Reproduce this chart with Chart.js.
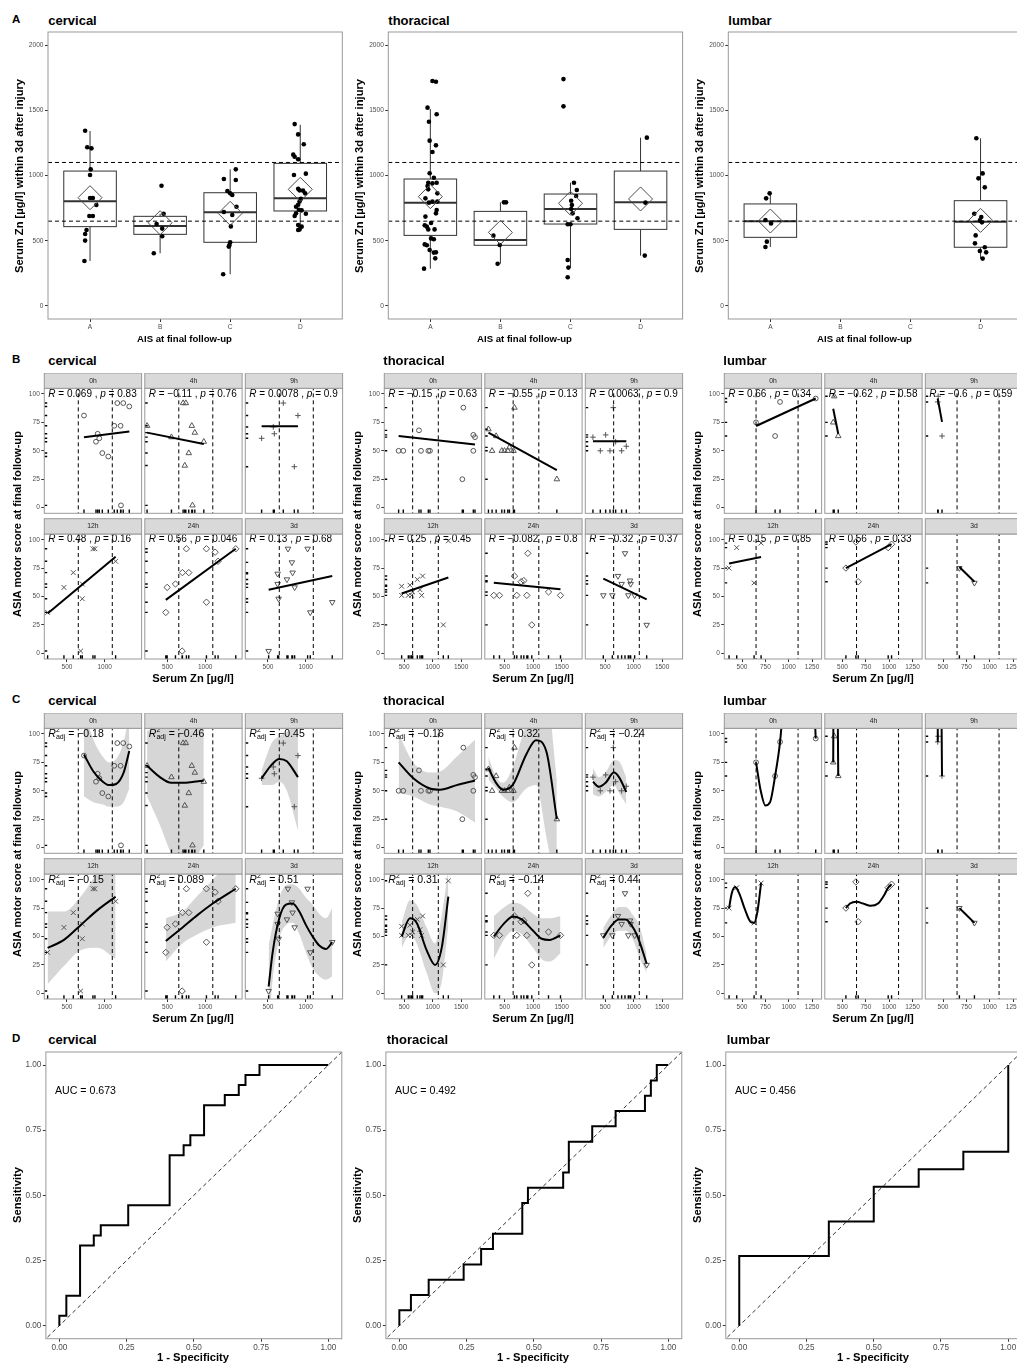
<!DOCTYPE html>
<html>
<head>
<meta charset="utf-8">
<title>Serum Zn and neurological outcome</title>
<script src="https://cdn.jsdelivr.net/npm/chart.js"></script>
<style>
  html, body { margin: 0; padding: 0; background: #fff; overflow: hidden; }
  #page { position: relative; width: 1017px; height: 1365px; overflow: hidden; font-family: "Liberation Sans", Arial, sans-serif; }
  #page canvas { position: absolute; }
  .t { position: absolute; white-space: nowrap; color: #000; line-height: 1; }
</style>
</head>
<body>
<div id="page"></div>
<script>
// ---------- A: serum Zn within 3d by AIS grade ----------
const aisCategories = ['A', 'B', 'C', 'D'];
const znCutoffs = [650, 1100];
const znAxisTicks = [0, 500, 1000, 1500, 2000];

// [lower whisker, q1, median, q3, upper whisker] per AIS grade
const cervicalBox = [[345, 608, 802, 1034, 1341], [404, 549, 613, 687, 707], [243, 488, 718, 868, 1047], [578, 728, 825, 1093, 1389]];
const thoracicBox = [[286, 541, 792, 973, 1509], [324, 465, 506, 725, 794], [294, 628, 743, 858, 945], [386, 587, 794, 1034, 1290]];
const lumbarBox = [[452, 526, 649, 782, 863], null, null, [363, 450, 646, 807, 1285]];
const cervicalMean = [830, 638, 710, 894];
const thoracicMean = [838, 564, 787, 820];
const lumbarMean = [651, null, null, 656];

// jittered points: [AIS position, serum Zn]
const cervicalZn = [
  [0.93, 1343], [0.96, 1216], [1.02, 1208], [1.01, 1047], [1.0, 1004], [1.0, 828], [1.04, 828], [1.09, 774],
  [0.99, 690], [1.04, 690], [0.95, 582], [0.93, 552], [0.93, 501], [0.92, 345],
  [2.02, 922], [2.05, 707], [1.95, 628], [2.03, 593], [2.03, 534], [1.91, 404],
  [3.08, 1047], [2.91, 973], [3.08, 965], [2.96, 881], [3.03, 850], [3.0, 863], [3.09, 761], [2.91, 720],
  [3.03, 697], [3.01, 610], [3.0, 488], [2.99, 467], [2.98, 455], [2.9, 243],
  [3.92, 1394], [3.97, 1315], [4.05, 1239], [3.9, 1160], [3.92, 1144], [3.97, 1124], [3.91, 1004], [4.08, 1014],
  [3.97, 899], [3.99, 886], [4.04, 884], [4.07, 863], [4.01, 822], [3.99, 800], [3.97, 776], [3.94, 761],
  [3.98, 738], [4.02, 733], [3.94, 710], [4.08, 707], [3.92, 690], [3.97, 621], [4.02, 608], [3.99, 587], [3.97, 582]
];
const thoracicZn = [
  [1.03, 1724], [1.08, 1719], [0.96, 1520], [1.09, 1469], [0.98, 1412], [0.99, 1267], [1.08, 1231], [1.03, 1180],
  [0.99, 1017], [1.05, 983], [0.97, 945], [1.03, 940], [1.09, 945], [0.96, 919], [1.1, 863], [0.97, 894],
  [0.93, 825], [0.98, 792], [1.03, 800], [1.1, 800], [1.09, 735], [1.08, 710], [0.93, 685], [0.92, 618],
  [0.95, 608], [1.01, 636], [0.97, 587], [1.06, 587], [1.01, 518], [1.05, 511], [0.92, 472], [0.95, 465],
  [0.99, 429], [1.05, 409], [1.08, 411], [1.07, 365], [0.91, 286],
  [2.05, 794], [2.08, 794], [1.9, 539], [1.99, 467], [1.96, 324],
  [2.9, 1739], [2.9, 1530], [3.05, 945], [3.09, 889], [3.08, 843], [3.01, 807], [3.02, 774], [3.01, 743],
  [3.03, 710], [3.1, 672], [2.96, 626], [3.0, 626], [2.96, 352], [2.97, 294], [2.96, 220],
  [4.09, 1290], [4.07, 792], [4.06, 386]
];
const lumbarZn = [
  [0.99, 863], [0.94, 825], [0.93, 659], [1.01, 633], [0.95, 493], [0.93, 452],
  [3.94, 1285], [4.03, 1016], [3.97, 978], [4.06, 909], [3.91, 707], [4.01, 682], [3.99, 656], [4.02, 641],
  [3.93, 541], [3.92, 480], [3.99, 421], [4.08, 411], [4.06, 450], [4.03, 363]
];

// ---------- B / C: ASIA motor score vs serum Zn per time point ----------
const timepoints = ['0h', '4h', '9h', '12h', '24h', '3d'];
const asiaTicks = [0, 25, 50, 75, 100];

// [serum Zn, ASIA motor score]
const cervical0h = [[725, 81], [906, 65], [884, 58], [928, 61], [968, 48], [1047, 45], [1126, 72], [1210, 72], [1166, 92], [1245, 92], [1325, 89], [1215, 2]];
const cervical4h = [[230, 72], [553, 62], [707, 92], [743, 92], [822, 72], [862, 66], [782, 48], [729, 37], [981, 58], [831, 2]];
const cervical9h = [[416, 61], [571, 71], [584, 65], [703, 92], [897, 81], [849, 36]];
const cervical12h = [[244, 36], [460, 58], [584, 71], [703, 61], [703, 48], [681, 2], [844, 92], [870, 92], [1144, 81]];
const cervical24h = [[478, 36], [496, 58], [606, 61], [698, 71], [782, 71], [751, 92], [1016, 92], [1016, 45], [1131, 89], [1170, 81], [1404, 92], [694, 2]];
const cervical3d = [[509, 2], [628, 70], [628, 61], [641, 48], [765, 92], [817, 80], [826, 71], [751, 65], [853, 58], [1025, 92], [1060, 36], [1351, 45]];

const thoracic0h = [[404, 50], [486, 50], [761, 68], [796, 50], [925, 50], [954, 50], [1539, 88], [1521, 25], [1714, 64], [1743, 62], [1714, 50]];
const thoracic4h = [[217, 69], [352, 63], [281, 50], [451, 50], [498, 50], [556, 50], [585, 53], [656, 50], [673, 88], [1416, 25]];
const thoracic9h = [[287, 62], [510, 64], [416, 50], [586, 50], [644, 88], [790, 50], [872, 54], [685, 58]];
const thoracic12h = [[457, 59], [457, 51], [603, 60], [632, 51], [574, 51], [650, 54], [732, 65], [825, 68], [808, 51], [778, 56], [1188, 25], [1276, 99]];
const thoracic24h = [[311, 51], [410, 51], [673, 68], [714, 51], [790, 63], [837, 64], [907, 88], [890, 51], [977, 25], [1270, 54], [1480, 51]];
const thoracic3d = [[469, 51], [627, 51], [726, 68], [790, 61], [849, 88], [937, 64], [948, 61], [907, 51], [1018, 51], [1229, 25]];

const lumbar0h = [[650, 75], [854, 63], [907, 93], [1289, 96]];
const lumbar4h = [[400, 75], [411, 98], [454, 63]];
const lumbar9h = [[443, 93], [448, 98], [489, 63]];
const lumbar12h = [[361, 75], [443, 93], [629, 62], [704, 97]];
const lumbar24h = [[536, 75], [643, 98], [668, 63], [989, 93], [1025, 96]];
const lumbar3d = [[675, 75], [836, 62]];

// linear fits: [x start, y start, x end, y end]
const cervicalLinear = [[725, 62, 1325, 67], [230, 66, 981, 56], [416, 71.5, 897, 71.5], [244, 35, 1144, 85], [478, 47, 1404, 92], [509, 56, 1351, 68]];
const thoracicLinear = [[404, 63, 1743, 55.5], [217, 66, 1416, 33], [287, 58.5, 872, 58.5], [457, 52.6, 1276, 66.7], [311, 62, 1480, 56.4], [469, 65.8, 1229, 47.4]];
const lumbarLinear = [[650, 71.8, 1289, 96], [400, 87, 454, 65], [443, 96, 489, 75.5], [361, 79, 704, 84.8], [536, 75, 1025, 96], [675, 76, 836, 63]];

// correlation labels [R, p]
const cervicalCor = [['0.069', '0.83'], ['\u22120.11', '0.76'], ['0.0078', '0.9'], ['0.48', '0.16'], ['0.56', '0.046'], ['0.13', '0.68']];
const thoracicCor = [['\u22120.15', '0.63'], ['\u22120.55', '0.13'], ['0.0063', '0.9'], ['0.25', '0.45'], ['\u22120.082', '0.8'], ['\u22120.32', '0.37']];
const lumbarCor = [['0.66', '0.34'], ['\u22120.62', '0.58'], ['\u22120.6', '0.59'], ['0.15', '0.85'], ['0.56', '0.33'], null];

// adjusted R² of cubic fits
const cervicalR2 = ['\u22120.18', '\u22120.46', '\u22120.45', '\u22120.15', '0.089', '0.51'];
const thoracicR2 = ['\u22120.16', '0.32', '\u22120.24', '0.31', '\u22120.14', '0.44'];
const lumbarR2 = [null, null, null, null, null, null];

// cubic fits: [serum Zn, fit, lower, upper]
const cervicalPoly0h = [[725, 82, 45, 120], [850, 67, 40, 95], [975, 58, 38, 80], [1060, 55, 36, 75], [1150, 56, 36, 78], [1250, 66, 40, 93], [1325, 85, 52, 118]];
const cervicalPoly4h = [[230, 72, 45, 103], [400, 62, 20, 106], [550, 57, -5, 118], [700, 57, -18, 132], [850, 58, -10, 126], [981, 59, 2, 116]];
const cervicalPoly9h = [[416, 61, 55, 68], [550, 73, 55, 92], [650, 78, 58, 98], [750, 76, 50, 102], [897, 62, 15, 110]];
const cervicalPoly12h = [[244, 40, 8, 72], [460, 47, 24, 72], [680, 60, 38, 85], [900, 73, 40, 106], [1144, 85, 30, 130]];
const cervicalPoly24h = [[478, 46, 28, 66], [700, 58, 44, 72], [900, 69, 52, 86], [1100, 79, 58, 100], [1404, 92, 62, 122]];
const cervicalPoly3d = [[509, 6, -30, 42], [562, 36, 12, 60], [650, 66, 48, 84], [738, 78, 60, 95], [826, 79, 62, 96], [915, 72, 52, 92],
  [1003, 60, 36, 84], [1091, 50, 22, 78], [1179, 42, 15, 70], [1268, 39, 12, 66], [1351, 45, 15, 75]];

const thoracicPoly0h = [[404, 75, 48, 100], [662, 61, 45, 75], [954, 52, 38, 66], [1130, 51, 36, 67], [1422, 55, 32, 80], [1743, 59, 22, 95]];
const thoracicPoly4h = [[217, 70, 60, 80], [350, 57, 52, 62], [470, 51, 45, 57], [640, 55, 40, 70], [880, 82, 52, 110], [1050, 94.5, 55, 130], [1230, 85, 10, 135], [1416, 25, -40, 60]];
const thoracicPoly9h = [[287, 58, 47, 70], [392, 53.5, 45, 62], [509, 57, 49, 66], [656, 66, 55, 77], [743, 62, 48, 76], [872, 49, 38, 62]];
const thoracicPoly12h = [[457, 50, 40, 62], [603, 66, 52, 82], [720, 62, 44, 78], [895, 38, 18, 58], [1042, 25, 0, 44], [1159, 40, 10, 68], [1276, 85, 60, 110]];
const thoracicPoly24h = [[311, 50, 30, 68], [500, 62, 48, 76], [650, 67.5, 55, 80], [800, 65, 52, 78], [1000, 55, 40, 70], [1150, 48, 30, 66], [1290, 47, 28, 66], [1480, 51, 35, 68]];
const thoracicPoly3d = [[469, 49, 40, 58], [600, 59, 50, 68], [743, 65, 55, 76], [860, 65, 55, 76], [1000, 57, 46, 68], [1100, 46, 32, 60], [1229, 26, 18, 35]];

const lumbarPoly0h = [[650, 75], [700, 50], [750, 37], [800, 40], [854, 63], [907, 93], [935, 120], [1000, 200], [1100, 260], [1200, 220], [1260, 150], [1289, 96]];
const lumbarPoly4h = [[400, 75], [404, 140], [445, 140], [454, 63]];
const lumbarPoly9h = [[443, 93], [446, 140], [480, 140], [489, 63]];
const lumbarPoly12h = [[361, 75], [390, 88], [425, 93.5], [470, 88], [530, 74], [590, 63], [629, 62], [665, 72], [704, 97]];
const lumbarPoly24h = [[536, 75], [580, 79], [650, 80.5], [720, 79], [800, 77], [880, 79], [950, 87], [989, 93], [1025, 96]];
const lumbarPoly3d = [[675, 75], [836, 62]];

// ---------- D: ROC curves ----------
const rocTicks = [0, 0.25, 0.5, 0.75, 1];
const rocCervicalFpr = [0, 0, 0.026, 0.026, 0.077, 0.077, 0.128, 0.128, 0.154, 0.154, 0.256, 0.256, 0.41, 0.41, 0.462, 0.462, 0.487, 0.487, 0.538, 0.538, 0.615, 0.615, 0.667, 0.667, 0.692, 0.692, 0.744, 0.744, 1];
const rocCervicalTpr = [0, 0.038, 0.038, 0.115, 0.115, 0.308, 0.308, 0.346, 0.346, 0.385, 0.385, 0.462, 0.462, 0.654, 0.654, 0.692, 0.692, 0.731, 0.731, 0.846, 0.846, 0.885, 0.885, 0.923, 0.923, 0.962, 0.962, 1, 1];
const rocThoracicFpr = [0, 0, 0.043, 0.043, 0.109, 0.109, 0.239, 0.239, 0.304, 0.304, 0.348, 0.348, 0.457, 0.457, 0.478, 0.478, 0.609, 0.609, 0.63, 0.63, 0.717, 0.717, 0.804, 0.804, 0.913, 0.913, 0.935, 0.935, 0.957, 0.957, 1];
const rocThoracicTpr = [0, 0.059, 0.059, 0.118, 0.118, 0.176, 0.176, 0.235, 0.235, 0.294, 0.294, 0.353, 0.353, 0.471, 0.471, 0.529, 0.529, 0.588, 0.588, 0.706, 0.706, 0.765, 0.765, 0.824, 0.824, 0.882, 0.882, 0.941, 0.941, 1, 1];
const rocLumbarFpr = [0, 0, 0.333, 0.333, 0.5, 0.5, 0.667, 0.667, 0.833, 0.833, 1, 1];
const rocLumbarTpr = [0, 0.267, 0.267, 0.4, 0.4, 0.533, 0.533, 0.6, 0.6, 0.667, 0.667, 1];
const aucValues = ['0.673', '0.492', '0.456'];

// ---------- drawing ----------
const regionNames = ['cervical', 'thoracical', 'lumbar'];
const page = document.getElementById('page');
const FONT = '"Liberation Sans", Arial, sans-serif';
Chart.defaults.font.family = FONT;

const boxes = [cervicalBox, thoracicBox, lumbarBox];
const means = [cervicalMean, thoracicMean, lumbarMean];
const znPoints = [cervicalZn, thoracicZn, lumbarZn];
const scatter = [
  [cervical0h, cervical4h, cervical9h, cervical12h, cervical24h, cervical3d],
  [thoracic0h, thoracic4h, thoracic9h, thoracic12h, thoracic24h, thoracic3d],
  [lumbar0h, lumbar4h, lumbar9h, lumbar12h, lumbar24h, lumbar3d]
];
const linFits = [cervicalLinear, thoracicLinear, lumbarLinear];
const cors = [cervicalCor, thoracicCor, lumbarCor];
const r2s = [cervicalR2, thoracicR2, lumbarR2];
const polys = [
  [cervicalPoly0h, cervicalPoly4h, cervicalPoly9h, cervicalPoly12h, cervicalPoly24h, cervicalPoly3d],
  [thoracicPoly0h, thoracicPoly4h, thoracicPoly9h, thoracicPoly12h, thoracicPoly24h, thoracicPoly3d],
  [lumbarPoly0h, lumbarPoly4h, lumbarPoly9h, lumbarPoly12h, lumbarPoly24h, lumbarPoly3d]
];
const rocs = [[rocCervicalFpr, rocCervicalTpr], [rocThoracicFpr, rocThoracicTpr], [rocLumbarFpr, rocLumbarTpr]];

const shapeStyle = ['circle', 'triangle', 'cross', 'crossRot', 'rectRot', 'triangle'];
const shapeRot = [0, 0, 0, 0, 0, 180];
const shapeSize = [2.4, 3.2, 2.8, 3.4, 3.2, 3.2];

const znRange = [[200, 1488], [153, 1859], [310, 1352]];
const znTicks = [[500, 1000], [500, 1000, 1500], [500, 750, 1000, 1250]];

function text(str, x, y, css, anchor) {
  const d = document.createElement('div');
  d.className = 't';
  d.textContent = str;
  d.style.cssText += css;
  d.style.left = x + 'px';
  d.style.top = y + 'px';
  if (anchor === 'left') d.style.transform = 'translate(0,-50%)';
  else if (anchor === 'rot') d.style.transform = 'translate(-50%,-50%) rotate(-90deg)';
  else d.style.transform = 'translate(-50%,-50%)';
  page.appendChild(d);
}

function linScale(min, max, ticks, show, size, fmt) {
  return {
    type: 'linear', min, max,
    afterBuildTicks: s => { s.ticks = ticks.map(v => ({ value: v })); },
    border: { display: false },
    grid: { drawOnChartArea: false, drawTicks: show, tickLength: 3, color: '#333', lineWidth: 1 },
    ticks: { display: show, autoSkip: false, maxRotation: 0, minRotation: 0, padding: 1.5, color: '#4d4d4d',
      font: { size, family: FONT }, callback: fmt || (v => String(v)) }
  };
}

function clipArea(ctx, a) {
  ctx.beginPath();
  ctx.rect(a.left, a.top, a.right - a.left, a.bottom - a.top);
  ctx.clip();
}

function decoPlugin(d) {
  return {
    id: 'deco',
    beforeDatasetsDraw(chart) {
      if (!d.boxes) return;
      const { ctx, scales: { x, y } } = chart;
      ctx.save();
      ctx.strokeStyle = '#333';
      d.boxes.forEach((b, i) => {
        if (!b) return;
        const xc = x.getPixelForValue(i + 1);
        const x0 = x.getPixelForValue(i + 1 - 0.375), x1 = x.getPixelForValue(i + 1 + 0.375);
        const [lo, q1, md, q3, hi] = b.map(v => y.getPixelForValue(v));
        ctx.lineWidth = 1;
        ctx.beginPath();
        ctx.moveTo(xc, lo); ctx.lineTo(xc, q1);
        ctx.moveTo(xc, q3); ctx.lineTo(xc, hi);
        ctx.stroke();
        ctx.fillStyle = '#fff';
        ctx.fillRect(x0, q3, x1 - x0, q1 - q3);
        ctx.strokeRect(x0, q3, x1 - x0, q1 - q3);
        ctx.lineWidth = 2;
        ctx.beginPath(); ctx.moveTo(x0, md); ctx.lineTo(x1, md); ctx.stroke();
      });
      ctx.restore();
    },
    afterDatasetsDraw(chart) {
      const { ctx, chartArea: a, scales: { x, y } } = chart;
      ctx.save();
      clipArea(ctx, a);
      if (d.rug) {
        ctx.strokeStyle = '#000';
        ctx.lineWidth = 1.4;
        const lx = (a.right - a.left) * 0.03, ly = (a.bottom - a.top) * 0.03;
        ctx.beginPath();
        d.rug.forEach(([vx, vy]) => {
          const px = x.getPixelForValue(vx), py = y.getPixelForValue(vy);
          ctx.moveTo(px, a.bottom); ctx.lineTo(px, a.bottom - ly);
          ctx.moveTo(a.left, py); ctx.lineTo(a.left + lx, py);
        });
        ctx.stroke();
      }
      if (d.label) d.label(ctx, a, x, y);
      ctx.restore();
    },
    afterDraw(chart) {
      const { ctx, chartArea: a } = chart;
      ctx.save();
      ctx.strokeStyle = '#999';
      ctx.lineWidth = 1;
      ctx.strokeRect(a.left, a.top, a.right - a.left, a.bottom - a.top);
      if (d.strip) {
        const h = d.stripH;
        ctx.fillStyle = '#d9d9d9';
        ctx.fillRect(a.left, a.top - h, a.right - a.left, h);
        ctx.strokeRect(a.left, a.top - h, a.right - a.left, h);
        ctx.fillStyle = '#1a1a1a';
        ctx.font = '6.8px ' + FONT;
        ctx.textAlign = 'center';
        ctx.textBaseline = 'middle';
        ctx.fillText(d.strip, (a.left + a.right) / 2, a.top - h / 2);
      }
      ctx.restore();
    }
  };
}

function makePanel(box, pad, datasets, xs, ys, deco) {
  const cl = Math.floor(box.l - pad.l), ct = Math.floor(box.t - pad.t);
  const w = Math.ceil(box.r + pad.r) - cl, h = Math.ceil(box.b + pad.b) - ct;
  const pl = box.l - cl, pt = box.t - ct, pr = cl + w - box.r, pb = ct + h - box.b;
  const cv = document.createElement('canvas');
  cv.width = w; cv.height = h;
  cv.style.left = cl + 'px'; cv.style.top = ct + 'px';
  cv.style.width = w + 'px'; cv.style.height = h + 'px';
  page.appendChild(cv);
  xs.afterFit = s => { s.height = pb; s.paddingLeft = 0; s.paddingRight = 0; };
  ys.afterFit = s => { s.width = pl; s.paddingTop = 0; s.paddingBottom = 0; };
  return new Chart(cv, {
    type: 'line',
    data: { datasets },
    options: {
      responsive: false, animation: false, devicePixelRatio: 1, events: [],
      layout: { autoPadding: false, padding: { left: 0, top: pt, right: pr, bottom: 0 } },
      scales: { x: xs, y: ys },
      plugins: { legend: { display: false }, tooltip: { enabled: false }, title: { display: false } }
    },
    plugins: [decoPlugin(deco)]
  });
}

const xy = arr => arr.map(([x, y]) => ({ x, y }));
function lineSet(data, opts) {
  return Object.assign({ data, pointRadius: 0, borderColor: '#000', borderWidth: 2, fill: false, tension: 0, order: 1 }, opts);
}
function dashed(data, order) {
  return lineSet(data, { borderWidth: 1, borderDash: [4, 3], order });
}

function drawCor(ctx, a, y, r, p) {
  let px = a.left + 4;
  const py = y.getPixelForValue(100);
  ctx.fillStyle = '#000';
  ctx.textBaseline = 'middle';
  ctx.textAlign = 'left';
  [['R', true], [' = ' + r + ' , ', false], ['p', true], [' = ' + p, false]].forEach(([s, it]) => {
    ctx.font = (it ? 'italic ' : '') + '10px ' + FONT;
    ctx.fillText(s, px, py);
    px += ctx.measureText(s).width;
  });
}

function drawR2(ctx, a, y, val) {
  let px = a.left + 4;
  const py = y.getPixelForValue(100);
  ctx.fillStyle = '#000';
  ctx.textBaseline = 'middle';
  ctx.textAlign = 'left';
  ctx.font = 'italic 10.5px ' + FONT;
  ctx.fillText('R', px, py);
  px += ctx.measureText('R').width;
  ctx.font = '7px ' + FONT;
  ctx.fillText('2', px, py - 3.8);
  ctx.fillText('adj', px, py + 3.2);
  px += ctx.measureText('adj').width;
  ctx.font = '10.5px ' + FONT;
  ctx.fillText(' = ' + val, px, py);
}

// ---- row A ----
const rowALeft = [48, 388.3, 728.3];
regionNames.forEach((name, r) => {
  const box = { l: rowALeft[r], t: 32, r: rowALeft[r] + 294.3, b: 319 };
  const ds = [];
  znCutoffs.forEach(c => ds.push(dashed([{ x: 0, y: c }, { x: 5, y: c }], 3)));
  ds.push({ data: xy(znPoints[r]), showLine: false, pointRadius: 2.3, pointBackgroundColor: '#000', pointBorderColor: '#000', pointBorderWidth: 0, order: 2 });
  ds.push({ data: means[r].map((m, i) => (m == null ? null : { x: i + 1, y: m })).filter(Boolean), showLine: false,
    pointStyle: 'rectRot', pointRadius: 12, pointBorderColor: '#4d4d4d', pointBackgroundColor: 'rgba(0,0,0,0)', pointBorderWidth: 1, order: 1 });
  makePanel(box, { l: 26, t: 2, r: 2, b: 12 }, ds,
    linScale(0.4, 4.6, [1, 2, 3, 4], true, 6.6, v => aisCategories[v - 1]),
    linScale(-100, 2100, znAxisTicks, true, 6.6),
    { boxes: boxes[r] });
});

// ---- rows B and C ----
const facetLeft = [44.3, 384.3, 724.3], facetW = 97.3, facetStep = 100.5, stripH = 15.3;
function facetRow(stripTop, withPoly) {
  regionNames.forEach((name, r) => {
    for (let k = 0; k < 6; k++) {
      const col = k % 3, row = Math.floor(k / 3);
      const l = facetLeft[r] + col * facetStep;
      const t = stripTop + stripH + row * 145.7;
      const box = { l, t, r: l + facetW, b: t + 125 };
      const pad = { l: col === 0 ? 24 : 2, t: stripH, r: 2, b: row === 1 ? 13 : 2 };
      const pts = scatter[r][k];
      const ds = [];
      if (withPoly) {
        const poly = polys[r][k];
        if (poly[0].length > 2) {
          ds.push(lineSet(poly.map(p => ({ x: p[0], y: p[3] })), { borderWidth: 0, borderColor: 'rgba(0,0,0,0)', fill: '+1',
            backgroundColor: 'rgba(153,153,153,0.4)', cubicInterpolationMode: 'monotone', order: 6 }));
          ds.push(lineSet(poly.map(p => ({ x: p[0], y: p[2] })), { borderWidth: 0, borderColor: 'rgba(0,0,0,0)',
            cubicInterpolationMode: 'monotone', order: 6 }));
        }
      }
      ds.push({ data: xy(pts), showLine: false, pointStyle: shapeStyle[k], pointRotation: shapeRot[k], pointRadius: shapeSize[k],
        pointBorderColor: '#555', pointBackgroundColor: 'rgba(0,0,0,0)', pointBorderWidth: 1, order: 4 });
      znCutoffs.forEach(c => ds.push(dashed([{ x: c, y: -20 }, { x: c, y: 120 }], 3)));
      if (withPoly) {
        ds.push(lineSet(polys[r][k].map(p => ({ x: p[0], y: p[1] })), { cubicInterpolationMode: 'monotone', order: 1 }));
      } else {
        const f = linFits[r][k];
        ds.push(lineSet([{ x: f[0], y: f[1] }, { x: f[2], y: f[3] }], { order: 1 }));
      }
      let label = null;
      if (!withPoly && cors[r][k]) label = (ctx, a, x, y) => drawCor(ctx, a, y, cors[r][k][0], cors[r][k][1]);
      if (withPoly && r2s[r][k]) label = (ctx, a, x, y) => drawR2(ctx, a, y, r2s[r][k]);
      makePanel(box, pad, ds,
        linScale(znRange[r][0], znRange[r][1], znTicks[r], row === 1, 6.5),
        linScale(-5, 105, asiaTicks, col === 0, 6.6),
        { strip: timepoints[k], stripH, rug: pts, label });
    }
  });
}
facetRow(373, false);
facetRow(713, true);

// ---- row D ----
const rocLeft = [45.9, 385.9, 725.8];
regionNames.forEach((name, r) => {
  const box = { l: rocLeft[r], t: 1052, r: rocLeft[r] + 295.9, b: 1338.7 };
  const [fpr, tpr] = rocs[r];
  const ds = [
    dashed([{ x: -0.1, y: -0.1 }, { x: 1.1, y: 1.1 }], 2),
    lineSet(fpr.map((f, i) => ({ x: f, y: tpr[i] })), { borderWidth: 2, order: 1 })
  ];
  ds[0].borderColor = '#333';
  makePanel(box, { l: 28, t: 2, r: 2, b: 13 }, ds,
    linScale(-0.05, 1.05, rocTicks, true, 8.2, v => v.toFixed(2)),
    linScale(-0.05, 1.05, rocTicks, true, 8.2, v => v.toFixed(2)),
    { label: (ctx, a, x, y) => {
      ctx.fillStyle = '#000'; ctx.font = '10.6px ' + FONT; ctx.textBaseline = 'middle'; ctx.textAlign = 'left';
      ctx.fillText('AUC = ' + aucValues[r], x.getPixelForValue(-0.016), y.getPixelForValue(0.9));
    } });
});

// ---- text ----
const letterCss = 'font-weight:bold;font-size:11.5px;';
const titleCss = 'font-weight:bold;font-size:13px;';
const axisCss = 'font-weight:bold;font-size:11.2px;';
[['A', 19.5], ['B', 359.7], ['C', 700], ['D', 1039.3]].forEach(([s, y]) => text(s, 12, y, letterCss, 'left'));
regionNames.forEach((name, r) => {
  text(name, [48.3, 388.3, 728.3][r], 19.5, titleCss, 'left');
  text(name, [48.3, 383.3, 723.3][r], 359.7, titleCss, 'left');
  text(name, [48.3, 383.3, 723.3][r], 700, titleCss, 'left');
  text(name, [48.3, 386.7, 726.7][r], 1039.3, titleCss, 'left');
  const off = r * 340;
  text('Serum Zn [\u00b5g/l] within 3d after injury', 20 + off, 175.5, axisCss, 'rot');
  text('AIS at final follow-up', 184.5 + off, 339.3, 'font-weight:bold;font-size:9.6px;');
  text('ASIA motor score at final follow-up', 17.5 + off, 523.5, axisCss, 'rot');
  text('Serum Zn [\u00b5g/l]', 193 + off, 679, axisCss);
  text('ASIA motor score at final follow-up', 17.5 + off, 863.5, axisCss, 'rot');
  text('Serum Zn [\u00b5g/l]', 193 + off, 1019, axisCss);
  text('Sensitivity', 18.3 + off, 1195.3, axisCss, 'rot');
  text('1 - Specificity', 193 + off, 1358.3, axisCss);
});
</script>
</body>
</html>
